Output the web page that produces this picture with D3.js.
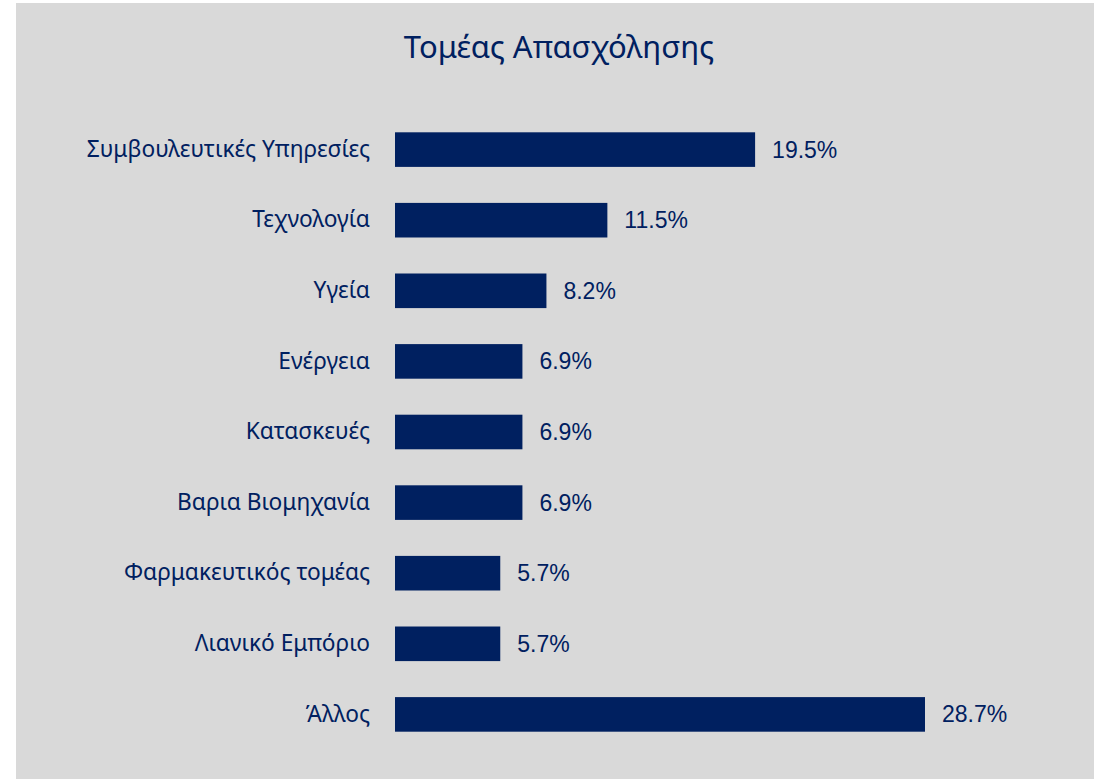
<!DOCTYPE html>
<html>
<head>
<meta charset="utf-8">
<script src="https://cdn.jsdelivr.net/npm/d3@7"></script>
<style>
  html, body { margin: 0; padding: 0; background: #ffffff; }
  svg { display: block; }
</style>
</head>
<body>
<svg id="chart" width="1094" height="779"></svg>
<script>
const titleText = "Τομέας Απασχόλησης";
const categories = [
  "Συμβουλευτικές Υπηρεσίες",
  "Τεχνολογία",
  "Υγεία",
  "Ενέργεια",
  "Κατασκευές",
  "Βαρια Βιομηχανία",
  "Φαρμακευτικός τομέας",
  "Λιανικό Εμπόριο",
  "Άλλος"
];
const values = [19.5, 11.5, 8.2, 6.9, 6.9, 6.9, 5.7, 5.7, 28.7];

const W = 1094, H = 779;
const navy = "#002060";
const svg = d3.select("#chart");

svg.append("rect")
  .attr("x", 16).attr("y", 3)
  .attr("width", W - 16).attr("height", H - 3)
  .attr("fill", "#d9d9d9");

svg.append("text")
  .attr("x", 559).attr("y", 47)
  .attr("dy", "0.35em")
  .attr("text-anchor", "middle")
  .attr("font-family", "'Noto Sans', sans-serif")
  .attr("font-size", 31)
  .attr("fill", navy)
  .text(titleText);

const x = d3.scaleLinear().domain([0, d3.max(values)]).range([395, 925]);
const y = d3.scaleBand().domain(categories).range([97, 767]).paddingInner(0.51).paddingOuter(0.5);

const data = categories.map((c, i) => ({ c, v: values[i] }));

svg.append("g").selectAll("rect").data(data).join("rect")
  .attr("x", x(0))
  .attr("y", d => y(d.c))
  .attr("width", d => x(d.v) - x(0))
  .attr("height", y.bandwidth())
  .attr("fill", navy);

svg.append("g").selectAll("text").data(data).join("text")
  .attr("x", d => x(d.v) + 17)
  .attr("y", d => y(d.c) + y.bandwidth() / 2)
  .attr("dy", "0.35em")
  .attr("font-family", "'Liberation Sans', Arial, sans-serif")
  .attr("font-size", 23)
  .attr("fill", navy)
  .text(d => d.v.toFixed(1) + "%");

const yAxis = d3.axisLeft(y).tickSize(0).tickPadding(25);
const ga = svg.append("g").attr("transform", `translate(${x(0)},0)`).call(yAxis);
ga.select(".domain").remove();
ga.selectAll("text")
  .attr("font-family", "'Noto Sans', sans-serif")
  .attr("font-size", 22.7)
  .attr("fill", navy);
</script>
</body>
</html>
